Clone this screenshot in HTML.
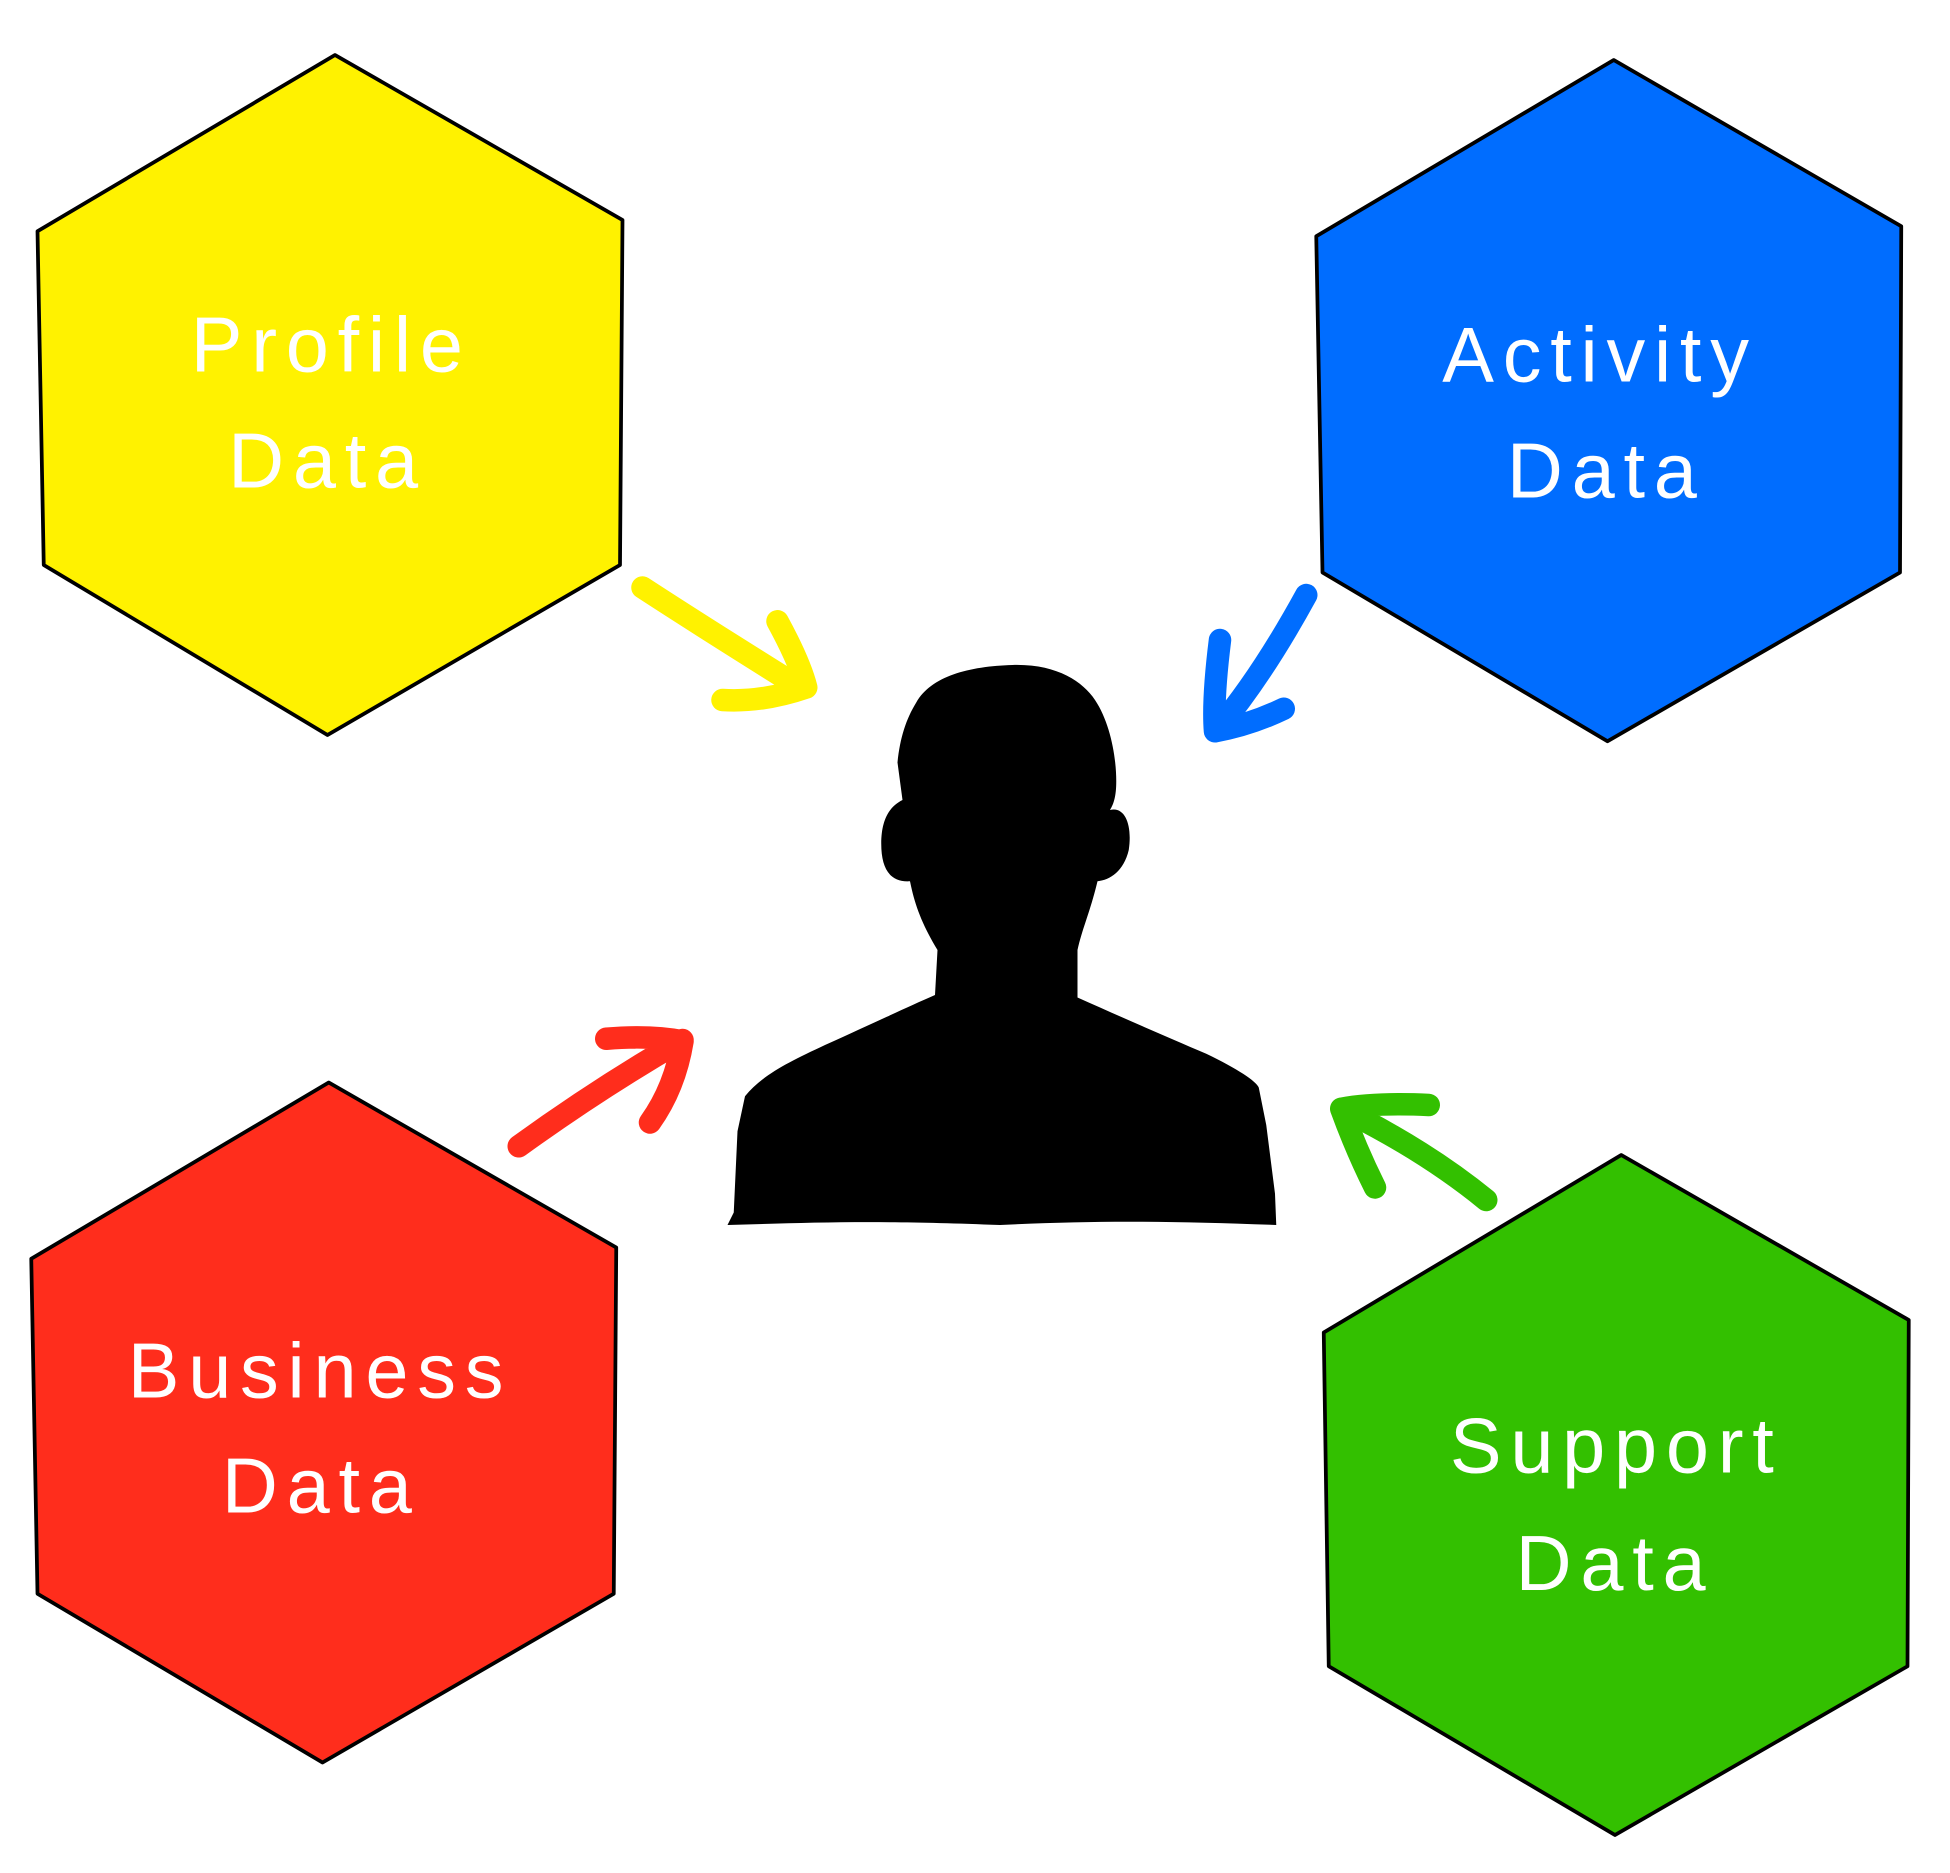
<!DOCTYPE html>
<html><head><meta charset="utf-8"><style>
html,body{margin:0;padding:0;background:#fff}
svg{display:block}
text{font-family:"Liberation Sans",sans-serif;fill:#fff;text-anchor:middle;font-size:62px;letter-spacing:7px}
</style></head><body>
<svg width="1950" height="1873" viewBox="0 0 1560 1498.4" xmlns="http://www.w3.org/2000/svg">
<g stroke="#000" stroke-width="3" stroke-linejoin="round">
<polygon fill="#fff200" points="268,44 498,176 496,452 262,588 35,452 30,185"/>
<polygon fill="#006dff" points="1291,48 1521,181 1520,458 1286,593 1058,458 1053,189"/>
<polygon fill="#ff2d1c" points="263,866 493,998 491,1275 258,1410 30,1275 25,1007"/>
<polygon fill="#33c000" points="1297,924 1527,1056 1526,1333 1292,1468 1063,1333 1059,1066"/>
</g>
<text x="265" y="297">Profile</text><text x="262" y="390">Data</text>
<text x="1280" y="305">Activity</text><text x="1285" y="398">Data</text>
<text x="256" y="1118">Business</text><text x="257" y="1210">Data</text>
<text x="1293" y="1178">Support</text><text x="1292" y="1272">Data</text>
<g fill="none" stroke-linecap="round" stroke-linejoin="round" stroke-width="18">
<path stroke="#fff200" d="M514,470 Q560,500 640,550 M622,497 Q640,530 645,550 Q610,562 578,560"/>
<path stroke="#006dff" d="M1045,476 Q1010,540 975,582 M976,512 Q970,560 972,585 Q1000,580 1027,567"/>
<path stroke="#ff2d1c" d="M415,917 Q480,870 546,832 M485,831 Q520,828 546,833 Q540,870 520,898"/>
<path stroke="#33c000" d="M1189,960 Q1140,920 1073,887 M1143,884 Q1100,882 1073,887 Q1085,920 1100,950"/>
</g>
<path fill="#000" d="M810,532 C845,531 866,545 876,560 C888,578 893,605 893,625 C893,637 891,643 888,648 C900,645 906,660 903,680 C899,697 888,704 878,705 C872,730 866,742 862,760 L862,798 C900,815 930,828 965,843 C990,855 1005,865 1007,870 L1013,900 L1020,955 L1021,980 C940,977 880,976 800,980 C700,976 650,978 582,980 L587,970 L590,905 L596,877 C610,860 630,850 660,836 C700,818 725,806 748,796 L750,760 C738,740 732,725 728,705 C712,706 705,695 705,675 C705,655 712,645 722,640 L718,610 C720,590 725,575 733,562 C745,541 775,533 810,532 Z"/>
</svg>
</body></html>
